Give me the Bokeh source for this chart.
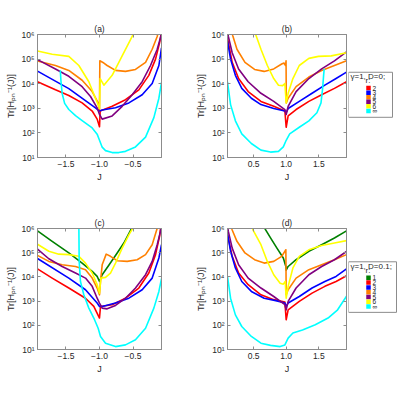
from bokeh.plotting import figure
from bokeh.layouts import row, column
from bokeh.models import FixedTicker, LinearAxis, LogAxis, CustomJSTickFormatter, Range1d
from bokeh.embed import file_html
from bokeh.resources import INLINE
from bokeh.core.properties import value

FONT = "Liberation Sans"
AXIS_GRAY = "#8c8c8c"
TEXT_DARK = "#262626"

# ---------------- axes / ticks ----------------
J_RANGE_NEG = (-1.925, -0.075)
J_RANGE_POS = (0.1, 1.925)
Y_RANGE = (1e1, 1e6)
X_TICKS_NEG = [-1.5, -1.0, -0.5]
X_TICK_LABELS_NEG = ["\u22121.5", "\u22121.0", "\u22120.5"]
X_TICKS_POS = [0.5, 1.0, 1.5]
X_TICK_LABELS_POS = ["0.5", "1.0", "1.5"]
Y_TICKS = [1e1, 1e2, 1e3, 1e4, 1e5, 1e6]
Y_TICK_LABELS = ["10\u00b9", "10\u00b2", "10\u00b3", "10\u2074", "10\u2075", "10\u2076"]
Y_LABEL = "Tr[H\u209a\u2099\u207b\u00b9(J)]"
X_LABEL = "J"
TITLES = ["(a)", "(b)", "(c)", "(d)"]

R_NAMES = ["1", "2", "3", "4", "5", "6", "\u221e"]
R_COLORS = ["#008000", "#ff0000", "#0000ff", "#ff8000", "#800080", "#ffff00", "#00ffff"]
LEGEND_B_TITLE = ["\u03b3=1,  D=0;", "r:"]
LEGEND_D_TITLE = ["\u03b3=1, D=0.1;", "r:"]

# ---------------- data: J and log10 Tr[...] ----------------
# panel (a): gamma=1, D=0, J<0
a_J_r2 = [-1.925, -1.657, -1.458, -1.259, -1.109, -1.035, -1.0, -0.99, -0.811, -0.612, -0.413, -0.264, -0.164, -0.104, -0.085, -0.075]
a_L_r2 = [4.08, 3.75, 3.52, 3.22, 2.89, 2.56, 2.25, 2.89, 3.08, 3.35, 3.75, 4.34, 5.0, 5.66, 5.95, 6.1]
a_J_r3 = [-1.925, -1.458, -1.06, -1.0, -0.96, -0.761, -0.562, -0.363, -0.214, -0.114, -0.075]
a_L_r3 = [4.51, 3.8, 3.02, 2.89, 2.93, 3.02, 3.22, 3.55, 4.01, 4.74, 5.46]
a_J_r4 = [-1.925, -1.657, -1.458, -1.259, -1.109, -1.02, -1.0, -0.995, -0.935, -0.886, -0.761, -0.612, -0.463, -0.313, -0.214, -0.139, -0.11]
a_L_r4 = [4.92, 4.74, 4.54, 4.14, 3.68, 3.22, 2.95, 4.93, 4.84, 4.74, 4.54, 4.50, 4.58, 4.87, 5.40, 5.92, 6.3]
a_J_r5 = [-1.925, -1.657, -1.458, -1.259, -1.134, -1.035, -1.0, -0.96, -0.811, -0.662, -0.512, -0.363, -0.239, -0.139, -0.085, -0.07]
a_L_r5 = [4.98, 4.6, 4.3, 3.88, 3.48, 3.02, 2.75, 2.56, 2.69, 3.08, 3.55, 4.08, 4.74, 5.40, 5.92, 6.2]
a_J_r6 = [-1.925, -1.706, -1.458, -1.308, -1.159, -1.06, -1.0, -0.99, -0.935, -0.811, -0.662, -0.512, -0.463]
a_L_r6 = [5.33, 5.2, 5.11, 4.74, 4.08, 3.41, 3.0, 4.21, 3.94, 4.34, 5.13, 5.92, 6.19]
a_J_rinf = [-1.585, -1.575, -1.557, -1.52, -1.458, -1.358, -1.259, -1.109, -1.035, -1.0, -0.96, -0.91, -0.811, -0.712, -0.612, -0.463, -0.313, -0.189, -0.114, -0.075]
a_L_rinf = [4.54, 4.1, 3.6, 3.2, 2.95, 2.7, 2.5, 2.2, 1.95, 1.7, 1.42, 1.28, 1.2, 1.2, 1.25, 1.43, 1.83, 2.62, 3.41, 4.05]

# panel (b): gamma=1, D=0, J>0
b_J_r2 = [0.1, 0.172, 0.27, 0.417, 0.613, 0.809, 0.98, 1.0, 1.03, 1.152, 1.348, 1.544, 1.74, 1.925]
b_L_r2 = [5.85, 4.87, 4.21, 3.68, 3.28, 3.08, 2.89, 2.23, 2.69, 2.95, 3.28, 3.55, 3.81, 4.08]
b_J_r3 = [0.1, 0.147, 0.221, 0.319, 0.466, 0.613, 0.809, 0.98, 1.0, 1.03, 1.201, 1.397, 1.593, 1.765, 1.925]
b_L_r3 = [5.73, 5.0, 4.34, 3.81, 3.41, 3.15, 2.99, 2.89, 2.82, 2.99, 3.28, 3.61, 3.94, 4.21, 4.47]
b_J_r4 = [0.147, 0.181, 0.245, 0.368, 0.515, 0.662, 0.809, 0.931, 0.966, 0.99, 0.998, 1.002, 1.03, 1.152, 1.348, 1.544, 1.74, 1.925]
b_L_r4 = [6.32, 5.95, 5.40, 4.87, 4.58, 4.50, 4.60, 4.80, 4.84, 4.74, 4.93, 3.22, 3.41, 3.88, 4.27, 4.54, 4.74, 4.93]
b_J_r5 = [0.1, 0.113, 0.172, 0.27, 0.417, 0.613, 0.809, 0.98, 1.0, 1.03, 1.152, 1.348, 1.544, 1.74, 1.925]
b_L_r5 = [6.1, 5.92, 5.26, 4.6, 4.08, 3.61, 3.28, 2.95, 2.75, 3.08, 3.68, 4.21, 4.6, 4.93, 5.29]
b_J_r6 = [0.505, 0.539, 0.613, 0.711, 0.809, 0.882, 0.946, 0.98, 1.0, 1.03, 1.103, 1.201, 1.348, 1.495, 1.691, 1.925]
b_L_r6 = [6.19, 5.95, 5.40, 4.74, 4.21, 3.94, 3.92, 4.01, 3.22, 3.61, 4.21, 4.74, 5.03, 5.11, 5.13, 5.26]
b_J_rinf = [0.1, 0.147, 0.221, 0.319, 0.466, 0.613, 0.76, 0.882, 0.956, 1.0, 1.054, 1.201, 1.348, 1.471, 1.534, 1.559, 1.574, 1.583]
b_L_rinf = [4.08, 3.15, 2.49, 1.96, 1.57, 1.30, 1.22, 1.25, 1.43, 1.70, 1.96, 2.23, 2.49, 2.82, 3.22, 3.81, 4.34, 4.60]

# panel (c): gamma=1, D=0.1, J<0
c_J_r1 = [-1.925, -1.706, -1.458, -1.259, -1.109, -1.035, -1.0, -0.96, -0.861, -0.736, -0.637, -0.537, -0.5]
c_L_r1 = [5.9, 5.47, 4.99, 4.57, 4.23, 4.02, 3.81, 4.09, 4.48, 4.99, 5.40, 5.92, 6.2]
c_J_r2 = [-1.925, -1.706, -1.458, -1.209, -1.085, -1.0, -0.985, -0.811, -0.612, -0.413, -0.264, -0.164, -0.104, -0.085]
c_L_r2 = [4.33, 3.95, 3.54, 3.12, 2.78, 2.30, 2.78, 2.85, 3.12, 3.54, 4.16, 4.92, 5.68, 6.1]
c_J_r3 = [-1.925, -1.458, -1.209, -1.035, -1.0, -0.96, -0.761, -0.562, -0.363, -0.214, -0.114, -0.075]
c_L_r3 = [4.76, 3.95, 3.47, 2.92, 2.78, 2.78, 2.92, 3.12, 3.47, 3.95, 4.78, 5.33]
c_J_r4 = [-1.925, -1.756, -1.557, -1.358, -1.209, -1.109, -1.035, -1.0, -0.985, -0.96, -0.9, -0.836, -0.736, -0.587, -0.438, -0.313, -0.214, -0.154, -0.134]
c_L_r4 = [4.89, 4.64, 4.50, 4.43, 4.30, 3.95, 3.54, 3.26, 3.81, 4.50, 4.94, 4.85, 4.67, 4.64, 4.71, 4.92, 5.33, 5.88, 6.05]
c_J_r5 = [-1.925, -1.756, -1.557, -1.358, -1.209, -1.109, -1.035, -1.0, -0.96, -0.886, -0.761, -0.612, -0.463, -0.313, -0.214, -0.139, -0.09, -0.075]
c_L_r5 = [5.15, 4.75, 4.43, 4.16, 3.95, 3.61, 3.12, 2.92, 2.71, 2.68, 2.82, 3.12, 3.54, 4.09, 4.64, 5.33, 5.88, 6.1]
c_J_r6 = [-1.925, -1.756, -1.607, -1.458, -1.308, -1.209, -1.109, -1.035, -1.0, -0.98, -0.91, -0.836, -0.761, -0.662, -0.562, -0.502]
c_L_r6 = [5.35, 5.06, 4.94, 4.92, 4.85, 4.57, 4.16, 3.68, 3.33, 3.95, 3.98, 4.16, 4.57, 5.19, 5.74, 6.02]
c_J_rinf = [-1.308, -1.303, -1.284, -1.234, -1.159, -1.085, -1.02, -0.985, -0.91, -0.761, -0.612, -0.463, -0.313, -0.189, -0.114, -0.075]
c_L_rinf = [6.09, 4.64, 3.81, 3.26, 2.71, 2.30, 1.88, 1.54, 1.26, 1.12, 1.19, 1.40, 1.88, 2.71, 3.40, 3.93]

# panel (d): gamma=1, D=0.1, J>0
d_J_r1 = [0.652, 0.76, 0.858, 0.956, 0.995, 1.0, 1.03, 1.152, 1.348, 1.544, 1.74, 1.925]
d_L_r1 = [6.09, 5.61, 5.19, 4.78, 4.43, 4.28, 4.43, 4.71, 5.06, 5.33, 5.61, 5.9]
d_J_r2 = [0.1, 0.172, 0.27, 0.417, 0.613, 0.809, 0.98, 1.0, 1.03, 1.201, 1.397, 1.593, 1.765, 1.925]
d_L_r2 = [5.75, 4.85, 4.16, 3.68, 3.26, 3.06, 2.96, 2.23, 2.64, 2.99, 3.33, 3.61, 3.81, 4.05]
d_J_r3 = [0.1, 0.147, 0.221, 0.319, 0.466, 0.662, 0.858, 0.98, 1.0, 1.03, 1.201, 1.397, 1.593, 1.765, 1.925]
d_L_r3 = [5.81, 5.06, 4.37, 3.81, 3.40, 3.12, 3.01, 2.92, 2.78, 2.92, 3.19, 3.54, 3.81, 4.02, 4.33]
d_J_r4 = [0.147, 0.172, 0.245, 0.368, 0.515, 0.662, 0.809, 0.931, 0.995, 1.0, 1.03, 1.152, 1.348, 1.544, 1.74, 1.925]
d_L_r4 = [6.16, 5.94, 5.47, 4.99, 4.71, 4.57, 4.64, 4.85, 5.12, 3.26, 3.47, 3.95, 4.30, 4.50, 4.71, 4.92]
d_J_r5 = [0.1, 0.113, 0.172, 0.27, 0.417, 0.613, 0.809, 0.98, 1.0, 1.03, 1.152, 1.348, 1.544, 1.74, 1.925]
d_L_r5 = [6.1, 5.88, 5.19, 4.50, 3.95, 3.54, 3.19, 2.85, 2.64, 2.99, 3.54, 4.09, 4.43, 4.71, 5.05]
d_J_r6 = [0.475, 0.49, 0.613, 0.711, 0.809, 0.907, 0.956, 0.985, 1.0, 1.03, 1.103, 1.201, 1.348, 1.544, 1.74, 1.925]
d_L_r6 = [6.16, 5.94, 5.33, 4.64, 4.09, 3.74, 3.70, 3.81, 3.12, 3.61, 4.37, 4.85, 5.12, 5.3, 5.4, 5.5]
d_J_rinf = [0.1, 0.147, 0.221, 0.319, 0.466, 0.613, 0.76, 0.907, 0.98, 1.03, 1.103, 1.25, 1.446, 1.642, 1.789, 1.925]
d_L_rinf = [4.02, 3.12, 2.43, 1.95, 1.54, 1.26, 1.17, 1.12, 1.19, 1.47, 1.68, 1.81, 2.02, 2.30, 2.64, 3.2]

PANEL_A = [("2", a_J_r2, a_L_r2), ("3", a_J_r3, a_L_r3), ("4", a_J_r4, a_L_r4),
           ("5", a_J_r5, a_L_r5), ("6", a_J_r6, a_L_r6), ("\u221e", a_J_rinf, a_L_rinf)]
PANEL_B = [("2", b_J_r2, b_L_r2), ("3", b_J_r3, b_L_r3), ("4", b_J_r4, b_L_r4),
           ("5", b_J_r5, b_L_r5), ("6", b_J_r6, b_L_r6), ("\u221e", b_J_rinf, b_L_rinf)]
PANEL_C = [("1", c_J_r1, c_L_r1), ("2", c_J_r2, c_L_r2), ("3", c_J_r3, c_L_r3), ("4", c_J_r4, c_L_r4),
           ("5", c_J_r5, c_L_r5), ("6", c_J_r6, c_L_r6), ("\u221e", c_J_rinf, c_L_rinf)]
PANEL_D = [("1", d_J_r1, d_L_r1), ("2", d_J_r2, d_L_r2), ("3", d_J_r3, d_L_r3), ("4", d_J_r4, d_L_r4),
           ("5", d_J_r5, d_L_r5), ("6", d_J_r6, d_L_r6), ("\u221e", d_J_rinf, d_L_rinf)]

COLOR_OF = dict(zip(R_NAMES, R_COLORS))


def style_axis(ax, show_labels=True):
    ax.axis_line_color = AXIS_GRAY
    ax.axis_line_width = 1
    ax.major_tick_line_color = AXIS_GRAY
    ax.major_tick_in = 3
    ax.major_tick_out = 0
    ax.minor_tick_line_color = None
    ax.major_label_text_font = FONT
    ax.major_label_text_color = TEXT_DARK
    ax.major_label_text_font_size = "8.5px"
    ax.axis_label_text_font = FONT
    ax.axis_label_text_font_style = "normal"
    ax.axis_label_text_color = TEXT_DARK
    ax.axis_label_text_font_size = "9px"
    if not show_labels:
        ax.formatter = CustomJSTickFormatter(code="return ''")
        ax.major_label_standoff = 0


def make_panel(title, x_range, xticks, xlabels, curves, width, height, bl, br, bt, bb):
    p = figure(width=width, height=height, x_range=x_range, y_range=Y_RANGE,
               y_axis_type="log", output_backend="svg", toolbar_location=None,
               min_border_left=bl, min_border_right=br, min_border_top=bt, min_border_bottom=bb,
               title=title)
    p.title.align = "center"
    p.title.text_font = FONT
    p.title.text_font_size = "8.5px"
    p.title.text_font_style = "normal"
    p.title.text_color = TEXT_DARK
    p.title.standoff = 2
    p.grid.visible = False
    p.outline_line_color = AXIS_GRAY
    p.background_fill_color = "white"
    p.border_fill_color = "white"

    xa = p.xaxis[0]
    ya = p.yaxis[0]
    style_axis(xa)
    style_axis(ya)
    xa.ticker = FixedTicker(ticks=xticks)
    xa.major_label_overrides = dict(zip(xticks, xlabels))
    xa.axis_label = X_LABEL
    xa.major_label_standoff = 3
    xa.axis_label_standoff = 2
    ya.ticker = FixedTicker(ticks=Y_TICKS)
    ya.major_label_overrides = dict(zip(Y_TICKS, Y_TICK_LABELS))
    ya.axis_label = Y_LABEL
    ya.major_label_standoff = 3
    ya.axis_label_standoff = 2

    ra = LogAxis(ticker=FixedTicker(ticks=Y_TICKS))
    style_axis(ra, show_labels=False)
    p.add_layout(ra, "right")
    ta = LinearAxis(ticker=FixedTicker(ticks=xticks))
    style_axis(ta, show_labels=False)
    p.add_layout(ta, "above")

    for name, J, L in curves:
        p.line(J, [10 ** v for v in L], line_color=COLOR_OF[name], line_width=1.6,
               line_join="round")
    return p


def make_legend(width, height, box, title_lines, title_ys, names, entry_ys):
    p = figure(width=width, height=height, x_range=Range1d(0, width), y_range=Range1d(height, 0),
               output_backend="svg", toolbar_location=None, min_border=0,
               x_axis_location=None, y_axis_location=None)
    p.grid.visible = False
    p.outline_line_color = None
    p.background_fill_color = "white"
    p.border_fill_color = "white"
    left, right, top, bottom = box
    p.quad(left=[left], right=[right], top=[top], bottom=[bottom], fill_color="white",
           line_color=AXIS_GRAY, line_width=1)
    p.text(x=[left + 2, 17], y=title_ys, text=title_lines, text_font=value(FONT),
           text_font_size="8px", text_color=TEXT_DARK, text_baseline="middle", text_align="left")
    p.scatter(x=[20] * len(names), y=entry_ys, marker="square", size=4.5,
              fill_color=[COLOR_OF[n] for n in names], line_color=None)
    p.text(x=[24] * len(names), y=entry_ys, text=names, text_font=value(FONT),
           text_font_size="6.5px", text_color=TEXT_DARK, text_baseline="middle", text_align="left")
    return p


# Bokeh's page template has no body margin, so the 8px offset is built into the
# first figures' borders.
W_LEFT, W_MID, W_LEG = 193, 155, 49
H_TOP, H_BOT = 202, 189

pa = make_panel(TITLES[0], J_RANGE_NEG, X_TICKS_NEG, X_TICK_LABELS_NEG, PANEL_A,
                W_LEFT, H_TOP, 37, 32, 34, 45)
pb = make_panel(TITLES[1], J_RANGE_POS, X_TICKS_POS, X_TICK_LABELS_POS, PANEL_B,
                W_MID, H_TOP, 29, 2, 34, 45)
pc = make_panel(TITLES[2], J_RANGE_NEG, X_TICKS_NEG, X_TICK_LABELS_NEG, PANEL_C,
                W_LEFT, H_BOT, 37, 32, 26, 42)
pd = make_panel(TITLES[3], J_RANGE_POS, X_TICKS_POS, X_TICK_LABELS_POS, PANEL_D,
                W_MID, H_BOT, 29, 2, 26, 42)

names_b = R_NAMES[1:]
lb = make_legend(W_LEG, H_TOP, (0, 44, 62, 136), LEGEND_B_TITLE, [69, 76],
                 names_b, [88 + 7.5 * i for i in range(len(names_b))])
ld = make_legend(W_LEG, H_BOT, (0, 48, 52, 131), LEGEND_D_TITLE, [59, 66],
                 R_NAMES, [77 + 7.5 * i for i in range(len(R_NAMES))])

layout = column(row(pa, pb, lb), row(pc, pd, ld))

open("out.html", "w").write(file_html(layout, INLINE))
